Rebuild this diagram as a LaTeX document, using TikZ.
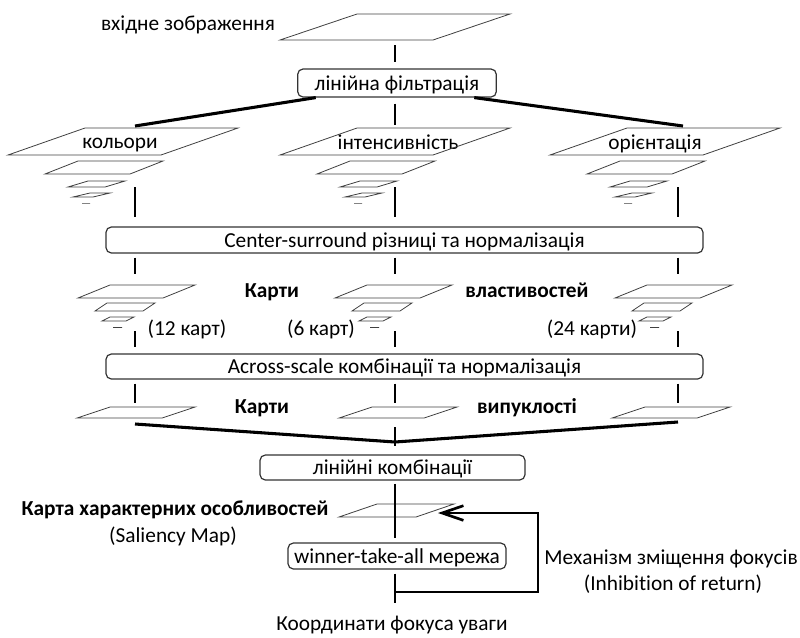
\documentclass[tikz,border=0pt]{standalone}
\usepackage{fontspec}
\setmainfont{Carlito}[Ligatures=NoCommon]
\usetikzlibrary{arrows.meta}

\begin{document}
\begin{tikzpicture}[x=0.75pt, y=-0.75pt]
	\tikzstyle{every node}=[inner sep=1pt, align=center, text height=12.5pt, text depth=2pt, font=\fontsize{16}{19}\selectfont]
	\tikzstyle{stage}=[draw=black!80, line width=0.9pt, rounded corners=4pt, inner sep=0pt]
	\tikzstyle{map}=[draw=black!75, line width=0.6pt]
	\tikzstyle{link}=[line width=2pt]
	\tikzstyle{feed}=[line width=2.3pt]
	\tikzstyle{head}=[font=\fontsize{16}{19}\selectfont\bfseries]
	\useasboundingbox (0,0) rectangle (800,637);

	% input image and filtering
	\draw[map] (357,14) -- ++(153,0) -- ++(-77,26) -- ++(-153,0) -- cycle;
	\node (in) at (188,23) {вхідне зображення};
	\node[stage, minimum width=149pt, minimum height=21pt] (lf) at (397,83) {лінійна фільтрація};
	\coordinate (inb) at (395,45);
	\draw[link, shorten >=4.5pt] (inb) -- (inb |- lf.north);

	% three channels
	\node (kol) at (120,141) {кольори};
	\node (int) at (398,142) {інтенсивність};
	\node (ori) at (655,142) {орієнтація};
	\coordinate (kt) at (135,126);
	\coordinate (it) at (395,125);
	\coordinate (ot) at (683,126);
	\draw[feed] ([xshift=14pt]lf.south west) -- (kt);
	\draw[feed] ([xshift=-17pt]lf.south east) -- (ot);
	\draw[link, shorten <=4.5pt] (lf.south -| it) -- (it);
	\foreach \cx in {85,357,627} {
		\foreach \dx/\dy/\w/\h/\s in {0/0/153/27/77, -7/33/85/13/33, 3/53/37/6/20, 5/65/20/4/17, -3/75/8/0/0}
			\draw[map] ({\cx+\dx},{128+\dy}) -- ++(\w,0) -- ++(-\s,\h) -- ++(-\w,0) -- cycle;
	}

	% center-surround
	\node[stage, minimum width=447.75pt, minimum height=19.5pt] (cs) at (404.5,240) {Center-surround різниці та нормалізація};
	\foreach \x [count=\c] in {135,395,678} {
		\coordinate (a\c) at (\x,187);
		\coordinate (b\c) at (\x,274);
		\coordinate (d\c) at (\x,331);
		\coordinate (e\c) at (\x,403);
	}
	\foreach \c in {1,2,3} {
		\draw[link, shorten >=6.75pt] (a\c) -- (a\c |- cs.north);
		\draw[link, shorten <=3pt] (a\c |- cs.south) -- (b\c);
	}
	\foreach \cx in {110,367,647} {
		\foreach \dx/\dy/\w/\h/\s in {0/0/85/13/32, -3/18/48/8/12, 0/32/24/4/8, 3/42/9/0/0}
			\draw[map] ({\cx+\dx},{285+\dy}) -- ++(\w,0) -- ++(-\s,\h) -- ++(-\w,0) -- cycle;
	}
	\node[head] (fk) at (272,290) {Карти};
	\node[head] (fv) at (527,290) {властивостей};
	\node (n12) at (187,328) {(12 карт)};
	\node (n6) at (321,328) {(6 карт)};
	\node (n24) at (592,328) {(24 карти)};

	% across-scale
	\node[stage, minimum width=447.75pt, minimum height=18.75pt] (as) at (404.5,366.5) {Across-scale комбінації та нормалізація};
	\foreach \c in {1,2,3} {
		\draw[link, shorten >=4.5pt] (d\c) -- (d\c |- as.north);
		\draw[link, shorten <=3pt] (d\c |- as.south) -- (e\c);
	}
	\foreach \cx in {110,372,645}
		\draw[map] (\cx,407) -- ++(85,0) -- ++(-33,11) -- ++(-85,0) -- cycle;
	\node[head] (ck) at (262,406) {Карти};
	\node[head] (cv) at (527,406) {випуклості};

	% linear combination
	\node[stage, minimum width=198.75pt, minimum height=18.75pt] (lc) at (392.5,467.5) {лінійні комбінації};
	\coordinate (c2) at (395,427);
	\coordinate (mg) at (395,442);
	\coordinate (k1) at (135,424);
	\coordinate (k3) at (678,422);
	\draw[feed] (k1) -- (mg) -- (k3);
	\draw[link, shorten >=6pt] (c2) -- (c2 |- lc.north);

	% saliency map and winner-take-all
	\draw[map] (377,504) -- ++(77,0) -- ++(-38,13) -- ++(-77,0) -- cycle;
	\node[head] (sm) at (175,508) {Карта характерних особливостей};
	\node (sme) at (173,535) {(Saliency Map)};
	\node[stage, minimum width=163.5pt, minimum height=19.5pt] (wta) at (397,556) {winner-take-all мережа};
	\draw[link, shorten <=2.5pt, shorten >=3.5pt] (lc.south -| c2) -- (wta.north -| c2);
	\coordinate (out) at (395,603);
	\coordinate (fork) at (395,592);
	\coordinate (tip) at (438,513);
	\draw[link, shorten <=3pt] (wta.south -| c2) -- (out);
	\draw[link, -{Straight Barb[length=16pt, width=11pt]}] (fork) -| (538,513) -- (tip);
	\node (ior) at (671,557) {Механізм зміщення фокусів};
	\node (iore) at (673,583) {(Inhibition of return)};
	\node (foc) at (392,623) {Координати фокуса уваги};
\end{tikzpicture}
\end{document}
